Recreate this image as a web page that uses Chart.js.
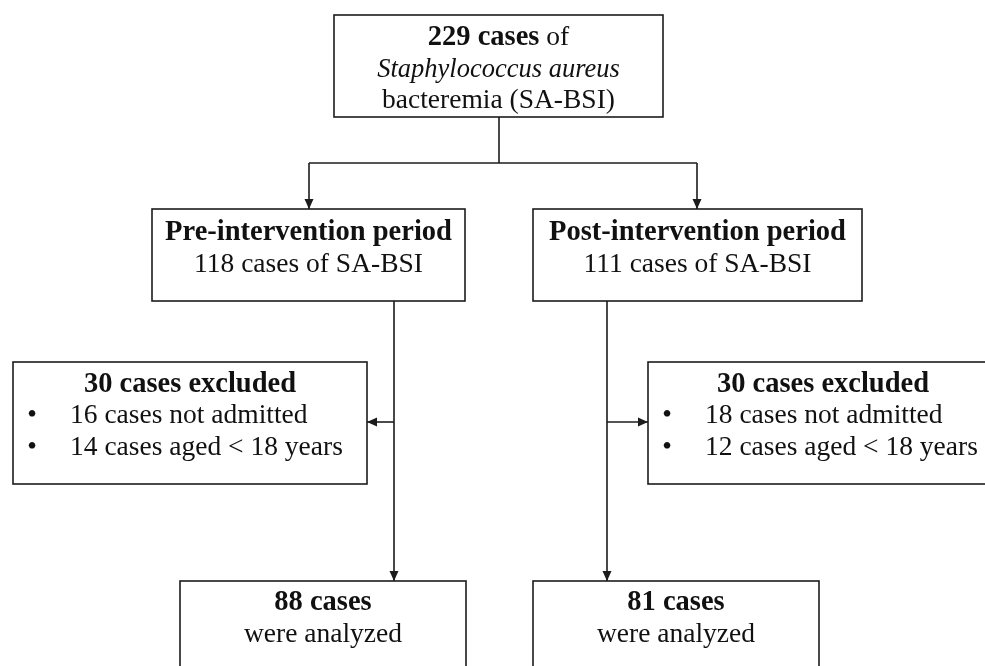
<!DOCTYPE html>
<html>
<head>
<meta charset="utf-8">
<script src="https://cdn.jsdelivr.net/npm/chart.js@4.4.0/dist/chart.umd.min.js"></script>
<style>
body { margin: 0; background: #fff; }
#wrap { width: 985px; height: 666px; position: relative; }
</style>
</head>
<body>
<div id="wrap"><canvas id="flow"></canvas></div>
<script>
// counts
const totalCases = 229;
const periodNames = ["Pre-intervention period", "Post-intervention period"];
const periodCases = [118, 111];
const excludedCases = [30, 30];
const notAdmitted = [16, 18];
const agedUnder18 = [14, 12];
const analyzedCases = [88, 81];

// box frames in chart units (x 0..985, y 0..666 from the top)
const frames = {
    top:   [334, 15, 663, 117],
    pre:   [152, 209, 465, 301],
    post:  [533, 209, 862, 301],
    exL:   [13, 362, 367, 484],
    exR:   [648, 362, 1000, 484],
    anL:   [180, 581, 466, 690],
    anR:   [533, 581, 819, 690]
};

// connectors: [points, arrow at end?]
const links = [
    [[[499, 117], [499, 163]], false],
    [[[309, 163], [697, 163]], false],
    [[[309, 163], [309, 209]], true],
    [[[697, 163], [697, 209]], true],
    [[[394, 301], [394, 581]], true],
    [[[394, 422], [367, 422]], true],
    [[[607, 301], [607, 581]], true],
    [[[607, 422], [648, 422]], true]
];

const ink = "#1c1c1c";

function runFont(s) {
    if (s == "b") return 'bold 28.5px "Liberation Serif"';
    if (s == "i") return 'italic 26.5px "Liberation Serif"';
    return '27.5px "Liberation Serif"';
}

function runsWidth(ctx, runs) {
    let w = 0;
    runs.forEach(r => { ctx.font = runFont(r[1]); w += ctx.measureText(r[0]).width; });
    return w;
}

function drawRuns(ctx, runs, x, y, center) {
    let sx = center ? x - runsWidth(ctx, runs) / 2 : x;
    runs.forEach(r => {
        ctx.font = runFont(r[1]);
        ctx.fillText(r[0], sx, y);
        sx += ctx.measureText(r[0]).width;
    });
}

// text for every box, built from the arrays above
const texts = [
    { box: "top", base: [45, 77, 108], lines: [
        [[totalCases + " cases", "b"], [" of", ""]],
        [["Staphylococcus aureus", "i"]],
        [["bacteremia (SA-BSI)", ""]]
    ]},
    { box: "pre", base: [240, 272], lines: [
        [[periodNames[0], "b"]],
        [[periodCases[0] + " cases of SA-BSI", ""]]
    ]},
    { box: "post", base: [240, 272], lines: [
        [[periodNames[1], "b"]],
        [[periodCases[1] + " cases of SA-BSI", ""]]
    ]},
    { box: "exL", base: [392, 423, 455], bullets: true, lines: [
        [[excludedCases[0] + " cases excluded", "b"]],
        [[notAdmitted[0] + " cases not admitted", ""]],
        [[agedUnder18[0] + " cases aged < 18 years", ""]]
    ]},
    { box: "exR", base: [392, 423, 455], bullets: true, lines: [
        [[excludedCases[1] + " cases excluded", "b"]],
        [[notAdmitted[1] + " cases not admitted", ""]],
        [[agedUnder18[1] + " cases aged < 18 years", ""]]
    ]},
    { box: "anL", base: [610, 642], lines: [
        [[analyzedCases[0] + " cases", "b"]],
        [["were analyzed", ""]]
    ]},
    { box: "anR", base: [610, 642], lines: [
        [[analyzedCases[1] + " cases", "b"]],
        [["were analyzed", ""]]
    ]}
];

const flowPlugin = {
    id: "flowBoxes",
    afterDatasetsDraw(chart) {
        const ctx = chart.ctx;
        const sx = chart.scales.x, sy = chart.scales.y;
        const px = v => sx.getPixelForValue(v);
        const py = v => sy.getPixelForValue(v);
        ctx.save();

        // arrow heads
        ctx.fillStyle = ink;
        links.forEach(l => {
            if (!l[1]) return;
            const p = l[0];
            const a = p[p.length - 2], b = p[p.length - 1];
            const x2 = px(b[0]), y2 = py(b[1]);
            const ang = Math.atan2(y2 - py(a[1]), x2 - px(a[0]));
            ctx.beginPath();
            ctx.moveTo(x2, y2);
            ctx.lineTo(x2 - 10 * Math.cos(ang) + 4.5 * Math.sin(ang), y2 - 10 * Math.sin(ang) - 4.5 * Math.cos(ang));
            ctx.lineTo(x2 - 10 * Math.cos(ang) - 4.5 * Math.sin(ang), y2 - 10 * Math.sin(ang) + 4.5 * Math.cos(ang));
            ctx.closePath();
            ctx.fill();
        });

        // boxes
        ctx.strokeStyle = ink;
        ctx.lineWidth = 1.6;
        Object.keys(frames).forEach(k => {
            const f = frames[k];
            ctx.strokeRect(px(f[0]), py(f[1]), px(f[2]) - px(f[0]), py(f[3]) - py(f[1]));
        });

        // texts
        ctx.fillStyle = "#111";
        ctx.textAlign = "left";
        ctx.textBaseline = "alphabetic";
        texts.forEach(t => {
            const f = frames[t.box];
            t.lines.forEach((ln, i) => {
                const y = py(t.base[i]);
                if (t.bullets && i > 0) {
                    ctx.font = runFont("");
                    ctx.textAlign = "center";
                    ctx.fillText("\u2022", px(f[0] + 19), y);
                    ctx.textAlign = "left";
                    drawRuns(ctx, ln, px(f[0] + 57), y, false);
                } else {
                    let cx = (f[0] + f[2]) / 2;
                    if (t.box == "exR") cx = 823;
                    drawRuns(ctx, ln, px(cx), y, true);
                }
            });
        });
        ctx.restore();
    }
};

new Chart(document.getElementById("flow"), {
    type: "scatter",
    data: {
        datasets: links.map(l => ({
            data: l[0].map(p => ({ x: p[0], y: p[1] })),
            showLine: true,
            borderColor: ink,
            borderWidth: 1.6,
            pointRadius: 0,
            fill: false
        }))
    },
    options: {
        responsive: true,
        maintainAspectRatio: false,
        animation: false,
        layout: { padding: 0 },
        plugins: { legend: { display: false }, tooltip: { enabled: false } },
        scales: {
            x: { type: "linear", min: 0, max: 985, display: false },
            y: { type: "linear", min: 0, max: 666, reverse: true, display: false }
        }
    },
    plugins: [flowPlugin]
});
</script>
</body>
</html>
